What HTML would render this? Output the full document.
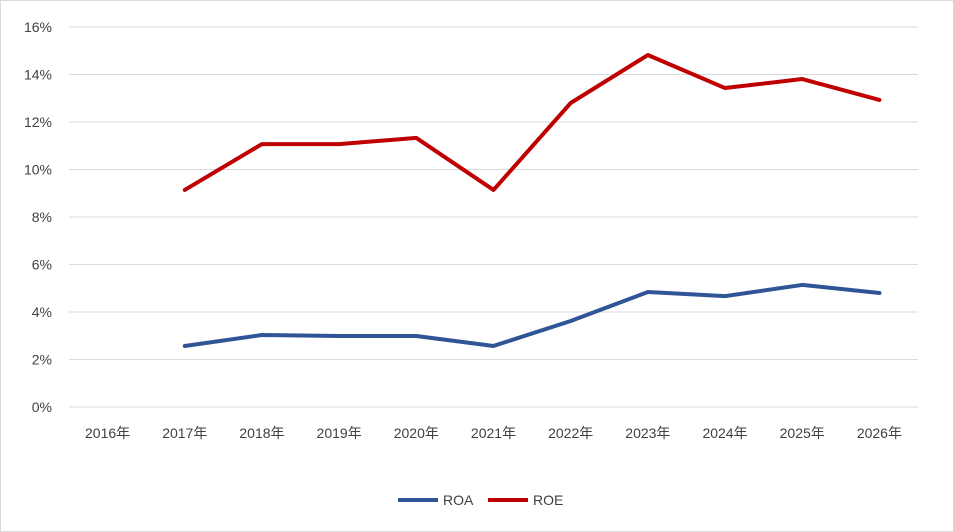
<!DOCTYPE html>
<html><head><meta charset="utf-8"><style>
html,body{margin:0;padding:0;background:#fff;}
#chart{position:absolute;left:0;top:0;width:954px;height:532px;}
text{font-family:"Liberation Sans","Noto Sans CJK JP",sans-serif;font-size:14px;fill:#404040;}
</style></head><body>
<svg id="chart" width="954" height="532">
<rect x="0.5" y="0.5" width="953" height="531" fill="#fff" stroke="#d9d9d9"/>
<g id="grid"></g><g id="yt"></g><g id="xt"></g><g id="series"></g>
<g>
<line x1="398" y1="500" x2="438" y2="500" stroke="#2f5597" stroke-width="4"/>
<text x="443" y="505">ROA</text>
<line x1="488" y1="500" x2="528" y2="500" stroke="#c00000" stroke-width="4"/>
<text x="533" y="505">ROE</text>
</g>
</svg>
<script>
const categories=["2016年","2017年","2018年","2019年","2020年","2021年","2022年","2023年","2024年","2025年","2026年"];
const roa=[null,2.57,3.03,2.99,2.99,2.57,3.62,4.84,4.67,5.14,4.8];
const roe=[null,9.14,11.07,11.07,11.33,9.14,12.8,14.82,13.43,13.81,12.93];
const yTicks=[0,2,4,6,8,10,12,14,16];
const NS="http://www.w3.org/2000/svg";
const x0=69,x1=918,yb=407,yt=27,ymax=16;
const step=(x1-x0)/categories.length;
const X=i=>x0+step*(i+0.5);
const Y=v=>yb-(v/ymax)*(yb-yt);
function mk(tag,attrs,parent){const e=document.createElementNS(NS,tag);for(const k in attrs)e.setAttribute(k,attrs[k]);parent.appendChild(e);return e;}
const grid=document.getElementById('grid'),ytg=document.getElementById('yt'),xtg=document.getElementById('xt'),sg=document.getElementById('series');
yTicks.forEach(t=>{
 const l=mk('line',{x1:x0,x2:x1,y1:Y(t),y2:Y(t),stroke:'#d9d9d9','stroke-width':1},grid);
 
 
 const tx=mk('text',{x:52,y:Y(t)+5,'text-anchor':'end'},ytg);
 tx.textContent=t+'%';
 
 
});
categories.forEach((c,i)=>{
 const tx=mk('text',{x:X(i),y:438,'text-anchor':'middle'},xtg);
 tx.textContent=c;
 
 
});
function line(vals,color,name){
 const pts=[];vals.forEach((v,i)=>{if(v!==null)pts.push(X(i)+','+Y(v));});
 const p=mk('polyline',{points:pts.join(' '),fill:'none',stroke:color,'stroke-width':4,'stroke-linejoin':'round','stroke-linecap':'round'},sg);
 
 
}
line(roa,'#2f5597','roa-line');
line(roe,'#c00000','roe-line');
</script>
</body></html>
